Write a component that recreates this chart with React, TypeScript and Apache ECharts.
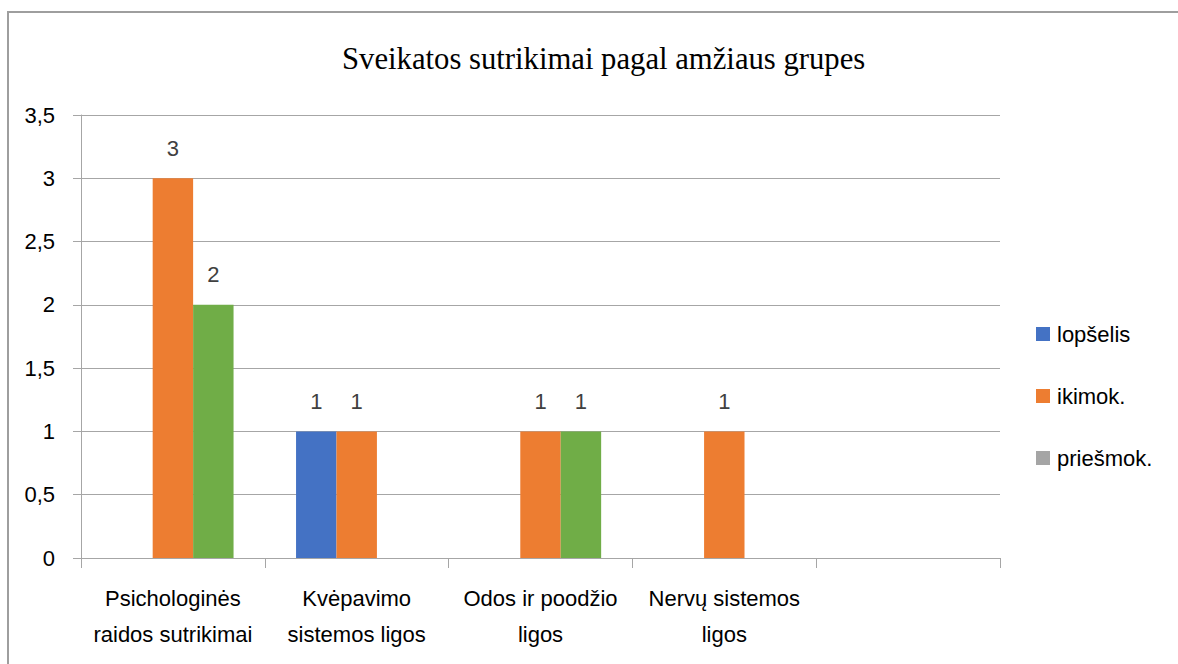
import React, { useEffect, useRef } from "react";
import * as echarts from "echarts";

const categories = [
  "Psichologinės\nraidos sutrikimai",
  "Kvėpavimo\nsistemos ligos",
  "Odos ir poodžio\nligos",
  "Nervų sistemos\nligos",
  "",
];
const lopselis = [null, 1, null, null, null];
const ikimok = [3, 1, 1, 1, null];
const priesmok = [2, null, 1, null, null];
const yTicks = [0, 0.5, 1, 1.5, 2, 2.5, 3, 3.5];

const FONT = "'Liberation Sans Narrow', 'Liberation Sans', 'Noto Sans', sans-serif";

export default function App() {
  const ref = useRef<HTMLDivElement>(null);
  useEffect(() => {
    document.body.style.margin = "0";
    const chart = echarts.init(ref.current!, null, { renderer: "svg" });
    const label = {
      show: true,
      position: "top",
      distance: 19,
      fontSize: 22,
      color: "#404040",
      fontFamily: FONT,
    };
    chart.setOption({
      animation: false,
      backgroundColor: "#fff",
      title: {
        text: "Sveikatos sutrikimai pagal amžiaus grupes",
        left: 337,
        top: 38,
        textStyle: {
          fontFamily: "'Liberation Serif', 'DejaVu Serif', serif",
          fontWeight: "normal",
          fontSize: 30.7,
          color: "#000",
        },
      },
      graphic: [
        {
          type: "rect",
          shape: { x: 8, y: 12, width: 1200, height: 700 },
          style: { fill: "none", stroke: "#9e9e9e", lineWidth: 2 },
          silent: true,
          z: -1,
        },
      ],
      legend: {
        orient: "vertical",
        left: 1031,
        top: 318,
        itemWidth: 14,
        itemHeight: 14,
        itemGap: 40,
        icon: "rect",
        textStyle: { fontSize: 22, color: "#000", fontFamily: FONT, padding: [0, 0, 0, 2] },
        data: [
          { name: "lopšelis", itemStyle: { color: "#4472c4" } },
          { name: "ikimok.", itemStyle: { color: "#ed7d31" } },
          { name: "priešmok.", itemStyle: { color: "#a5a5a5" } },
        ],
      },
      grid: { left: 81, right: 178, top: 115, bottom: 106, containLabel: false },
      xAxis: {
        type: "category",
        data: categories,
        axisLine: { show: true, lineStyle: { color: "#a6a6a6", width: 1 } },
        axisTick: { show: true, length: 10, lineStyle: { color: "#a6a6a6" } },
        axisLabel: {
          interval: 0,
          fontSize: 22,
          lineHeight: 36,
          margin: 22,
          color: "#000",
          fontFamily: FONT,
        },
      },
      yAxis: {
        type: "value",
        min: 0,
        max: 3.5,
        interval: 0.5,
        axisLine: { show: true, lineStyle: { color: "#a6a6a6", width: 1 } },
        axisTick: { show: true, length: 8, lineStyle: { color: "#a6a6a6" } },
        splitLine: { show: true, lineStyle: { color: "#a6a6a6", width: 1 } },
        axisLabel: {
          fontSize: 22,
          color: "#000",
          margin: 26,
          fontFamily: FONT,
          formatter: (v: number) =>
            yTicks.includes(v) ? String(v).replace(".", ",") : "",
        },
      },
      series: [
        {
          name: "lopšelis",
          type: "bar",
          data: lopselis,
          itemStyle: { color: "#4472c4" },
          label,
          barGap: "0%",
          barCategoryGap: "34%",
        },
        {
          name: "ikimok.",
          type: "bar",
          data: ikimok,
          itemStyle: { color: "#ed7d31" },
          label,
          barGap: "0%",
          barCategoryGap: "34%",
        },
        {
          name: "priešmok.",
          type: "bar",
          data: priesmok,
          itemStyle: { color: "#70ad47" },
          label,
          barGap: "0%",
          barCategoryGap: "34%",
        },
      ],
    });
    return () => chart.dispose();
  }, []);
  return <div ref={ref} style={{ width: 1178, height: 664 }} />;
}
